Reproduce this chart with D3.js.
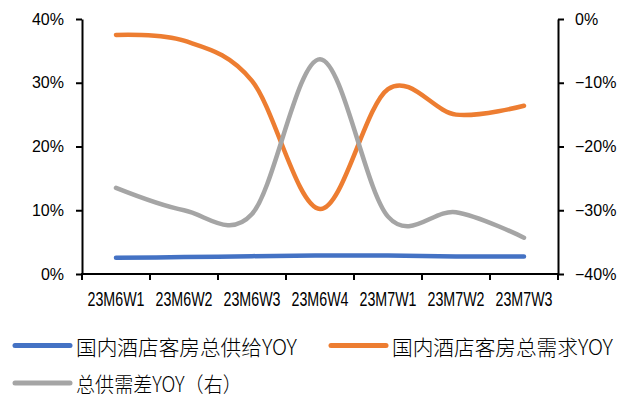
<!DOCTYPE html>
<html>
<head>
<meta charset="utf-8">
<script src="https://cdn.jsdelivr.net/npm/d3@7"></script>
<style>
  html, body { margin: 0; padding: 0; background: #fff; }
  svg { display: block; }
</style>
</head>
<body>
<svg id="chart" width="631" height="394"></svg>
<script>
// Weekly categories
const weeks = ["23M6W1", "23M6W2", "23M6W3", "23M6W4", "23M7W1", "23M7W2", "23M7W3"];

// Left axis series
const supplyYoY = [0.0255, 0.0265, 0.028, 0.029, 0.029, 0.0275, 0.0275];
const demandYoY = [0.375, 0.366, 0.303, 0.102, 0.290, 0.250, 0.264];

// Right axis series
const gapYoY = [-0.265, -0.300, -0.306, -0.063, -0.310, -0.303, -0.343];

// Axis ticks
const leftTicks = [0, 0.1, 0.2, 0.3, 0.4];
const rightTicks = [-0.4, -0.3, -0.2, -0.1, 0];

const seriesNames = ["国内酒店客房总供给YOY", "国内酒店客房总需求YOY", "总供需差YOY（右）"];
const seriesColors = ["#4472C4", "#ED7D31", "#A5A5A5"];

const svg = d3.select("#chart");
const plot = { left: 82, right: 558, top: 19, bottom: 274 };

const x = d3.scaleBand().domain(weeks).range([plot.left, plot.right]).paddingInner(0).paddingOuter(0);
const yL = d3.scaleLinear().domain([0, 0.4]).range([plot.bottom, plot.top]);
const yR = d3.scaleLinear().domain([-0.4, 0]).range([plot.bottom, plot.top]);
const pct = d3.format(".0%");

const cx = d => x(d) + x.bandwidth() / 2;

// Squeeze a text element horizontally so it spans at most the given width
function fitWidth(sel, width, anchorX, baseY) {
  sel.each(function (d) {
    const natural = this.getComputedTextLength();
    const k = Math.min(1, width / natural);
    d3.select(this).attr("x", 0).attr("y", 0)
      .attr("transform", `translate(${anchorX(d)},${baseY(d)}) scale(${k},1)`);
  });
}

// Lines (Excel-style smoothing)
const curve = d3.curveCardinal.tension(0);
const lineL = d3.line().x((d, i) => cx(weeks[i])).y(d => yL(d)).curve(curve);
const lineR = d3.line().x((d, i) => cx(weeks[i])).y(d => yR(d)).curve(curve);

const lines = svg.append("g");
[[supplyYoY, lineL, 0], [demandYoY, lineL, 1], [gapYoY, lineR, 2]].forEach(([data, gen, k]) => {
  lines.append("path")
    .attr("d", gen(data))
    .attr("fill", "none")
    .attr("stroke", seriesColors[k])
    .attr("stroke-width", 4.5)
    .attr("stroke-linecap", "round")
    .attr("stroke-linejoin", "round");
});

// Axes
const axisStyle = g => {
  g.selectAll(".domain").attr("stroke", "#000").attr("stroke-width", 2);
  g.selectAll(".tick line").attr("stroke", "#000").attr("stroke-width", 2);
};

const leftAxis = svg.append("g")
  .attr("transform", `translate(${plot.left},0)`)
  .call(d3.axisLeft(yL).tickValues(leftTicks).tickFormat(pct).tickSize(6).tickSizeOuter(0).tickPadding(12))
  .call(axisStyle);
leftAxis.selectAll("text")
  .attr("font-family", "'Liberation Sans', Arial, sans-serif")
  .attr("font-size", 16).attr("fill", "#000");

const rightAxis = svg.append("g")
  .attr("transform", `translate(${plot.right},0)`)
  .call(d3.axisRight(yR).tickValues(rightTicks).tickFormat(pct).tickSize(6).tickSizeOuter(0).tickPadding(11))
  .call(axisStyle);
rightAxis.selectAll("text")
  .attr("font-family", "'Liberation Sans', Arial, sans-serif")
  .attr("font-size", 16).attr("fill", "#000");

// Category axis with boundary ticks
const xAxis = svg.append("g").attr("transform", `translate(0,${plot.bottom})`);
xAxis.append("line")
  .attr("x1", plot.left - 1).attr("x2", plot.right + 1)
  .attr("stroke", "#000").attr("stroke-width", 2);
const bounds = weeks.map(w => x(w)).concat([plot.right]);
xAxis.selectAll("line.tick").data(bounds).join("line")
  .attr("class", "tick")
  .attr("x1", d => d).attr("x2", d => d)
  .attr("y1", 0).attr("y2", 6)
  .attr("stroke", "#000").attr("stroke-width", 2);
xAxis.selectAll("text.label").data(weeks).join("text")
  .attr("class", "label")
  .attr("text-anchor", "middle")
  .attr("font-family", "'Liberation Sans', Arial, sans-serif")
  .attr("font-size", 21)
  .attr("fill", "#000")
  .text(d => d)
  .call(fitWidth, 57, d => cx(d), () => 32);

// Legend
const legendItems = [
  { k: 0, x: 15, y: 345.5, w: 221 },
  { k: 1, x: 331, y: 345.5, w: 221 },
  { k: 2, x: 15, y: 383, w: 166 }
];
const legend = svg.append("g");
legend.selectAll("line").data(legendItems).join("line")
  .attr("x1", d => d.x).attr("x2", d => d.x + 55)
  .attr("y1", d => d.y).attr("y2", d => d.y)
  .attr("stroke", d => seriesColors[d.k])
  .attr("stroke-width", 5)
  .attr("stroke-linecap", "round");
legend.selectAll("text").data(legendItems).join("text")
  .attr("dominant-baseline", "central")
  .attr("font-family", "'Noto Sans CJK SC', sans-serif")
  .attr("font-weight", 300)
  .attr("font-size", 21)
  .attr("fill", "#000")
  .text(d => seriesNames[d.k])
  .each(function (d) {
    d3.select(this).call(fitWidth, d.w, () => d.x + 61, () => d.y);
  });
</script>
</body>
</html>
